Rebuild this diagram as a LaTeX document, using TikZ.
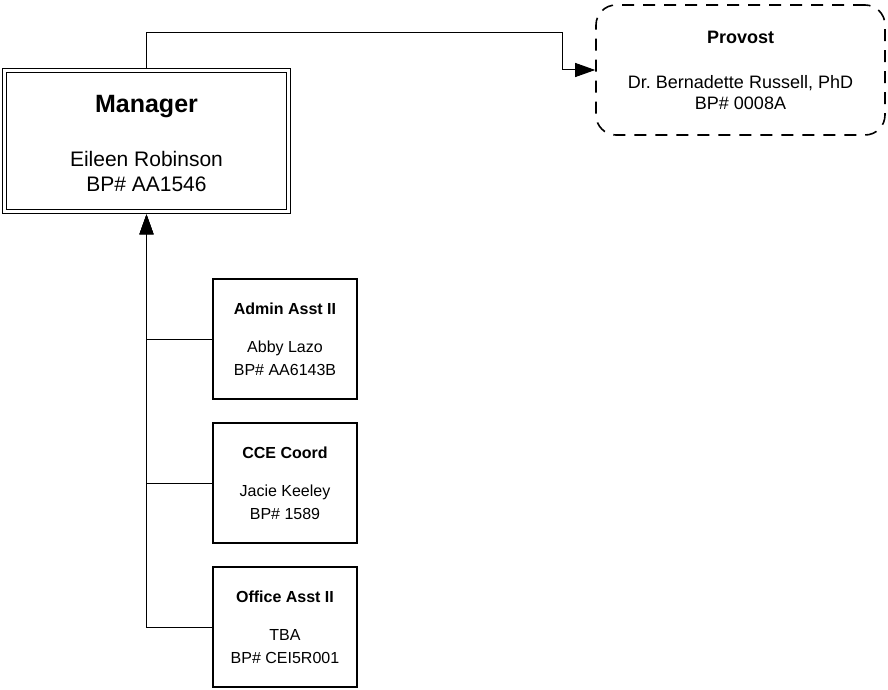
\documentclass[tikz,border=0pt]{standalone}
\usepackage{fontspec}
\setmainfont{Liberation Sans}
\usetikzlibrary{positioning, arrows.meta}

\begin{document}
\begin{tikzpicture}[
    x=1pt, y=-1pt,
    mgrbox/.style={draw, double, double distance=2.5pt, line width=1.6pt,
                   minimum width=284pt, minimum height=141pt, align=center,
                   outer sep=2.85pt, font=\fontsize{21}{25}\selectfont},
    provbox/.style={draw, dash pattern=on 12pt off 9pt, rounded corners=20pt,
                    line width=1.6pt, minimum width=289pt, minimum height=130pt,
                    align=center, outer sep=0.8pt, font=\fontsize{18}{21}\selectfont},
    staffbox/.style={draw, line width=1.8pt, minimum width=144pt, minimum height=120pt,
                     align=center, outer sep=0pt, font=\fontsize{16}{23}\selectfont},
    link/.style={-{Triangle[length=20pt, width=14pt]}, line width=1pt},
    node distance=24pt
  ]
  \useasboundingbox (0,0) rectangle (888,690);

  \node[mgrbox] (mgr) at (146.5,141)
    {{\fontsize{25}{25}\selectfont\bfseries\rule{0pt}{22pt}Manager}\\[28.5pt]Eileen Robinson\\BP\# AA1546};
  \node[provbox] (prov) at (740.5,70)
    {{\bfseries Provost}\\[24pt]Dr.\ Bernadette Russell, PhD\\BP\# 0008A};

  % direct reports
  \node[staffbox] (admin) at (285,339) {{\bfseries Admin Asst II}\\[15pt]Abby Lazo\\BP\# AA6143B};
  \node[staffbox, below=of admin] (cce) {{\bfseries CCE Coord}\\[15pt]Jacie Keeley\\BP\# 1589};
  \node[staffbox, below=of cce] (office) {{\bfseries Office Asst II}\\[15pt]TBA\\BP\# CEI5R001};

  % reporting lines
  \coordinate (hop) at (562,33);
  \draw[link] (mgr.north) |- (hop) |- (prov.west);
  \foreach \s in {admin, cce, office}
    \draw[link] (\s.west) -| (mgr.south);
\end{tikzpicture}
\end{document}
